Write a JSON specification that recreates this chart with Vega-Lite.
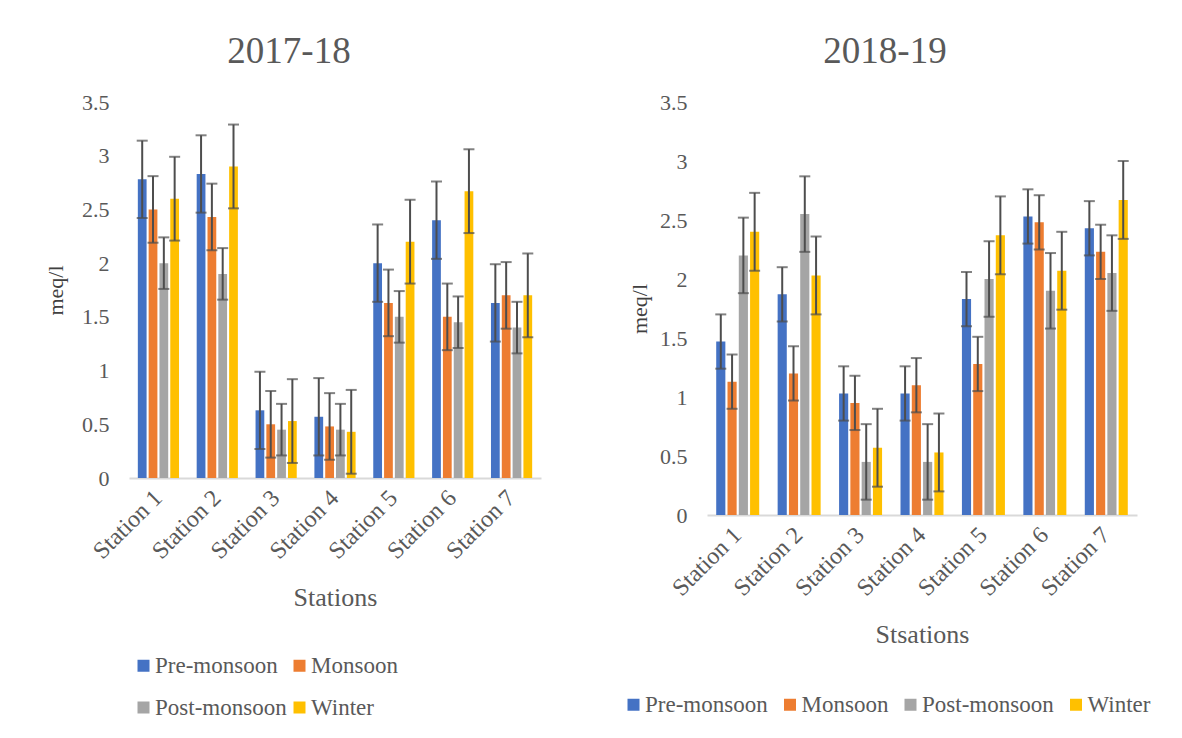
{
  "$schema": "https://vega.github.io/schema/vega-lite/v6.json",
  "padding": {"left": 44, "top": 33, "right": 5, "bottom": 5},
  "background": "white",
  "config": {
    "font": "Liberation Serif",
    "view": {"stroke": null},
    "axisY": {"titleFontSize": 22, "titleFont": "Liberation Serif", "titleColor": "#404040"},
    "axisLeft": {"titleFontSize": 22, "titleFont": "Liberation Serif", "titleColor": "#404040"},
    "style": {"guide-title": {"fontSize": 22}},
    "title": {"font": "Liberation Serif", "fontSize": 37, "fontWeight": "normal", "color": "#595959"}
  },
  "resolve": {"scale": {"x": "independent", "y": "independent", "xOffset": "independent", "color": "independent"}, "legend": {"color": "independent"}},
  "spacing": 81,
  "datasets": {
    "a": [
      {"Station": "Station 1", "Season": "Pre-monsoon", "value": 2.78, "low": 2.42, "high": 3.14},
      {"Station": "Station 1", "Season": "Monsoon", "value": 2.50, "low": 2.19, "high": 2.81},
      {"Station": "Station 1", "Season": "Post-monsoon", "value": 2.00, "low": 1.76, "high": 2.24},
      {"Station": "Station 1", "Season": "Winter", "value": 2.60, "low": 2.21, "high": 2.99},
      {"Station": "Station 2", "Season": "Pre-monsoon", "value": 2.83, "low": 2.47, "high": 3.19},
      {"Station": "Station 2", "Season": "Monsoon", "value": 2.43, "low": 2.12, "high": 2.74},
      {"Station": "Station 2", "Season": "Post-monsoon", "value": 1.90, "low": 1.66, "high": 2.14},
      {"Station": "Station 2", "Season": "Winter", "value": 2.90, "low": 2.51, "high": 3.29},
      {"Station": "Station 3", "Season": "Pre-monsoon", "value": 0.63, "low": 0.27, "high": 0.99},
      {"Station": "Station 3", "Season": "Monsoon", "value": 0.50, "low": 0.19, "high": 0.81},
      {"Station": "Station 3", "Season": "Post-monsoon", "value": 0.45, "low": 0.21, "high": 0.69},
      {"Station": "Station 3", "Season": "Winter", "value": 0.53, "low": 0.14, "high": 0.92},
      {"Station": "Station 4", "Season": "Pre-monsoon", "value": 0.57, "low": 0.21, "high": 0.93},
      {"Station": "Station 4", "Season": "Monsoon", "value": 0.48, "low": 0.17, "high": 0.79},
      {"Station": "Station 4", "Season": "Post-monsoon", "value": 0.45, "low": 0.21, "high": 0.69},
      {"Station": "Station 4", "Season": "Winter", "value": 0.43, "low": 0.04, "high": 0.82},
      {"Station": "Station 5", "Season": "Pre-monsoon", "value": 2.00, "low": 1.64, "high": 2.36},
      {"Station": "Station 5", "Season": "Monsoon", "value": 1.63, "low": 1.32, "high": 1.94},
      {"Station": "Station 5", "Season": "Post-monsoon", "value": 1.50, "low": 1.26, "high": 1.74},
      {"Station": "Station 5", "Season": "Winter", "value": 2.20, "low": 1.81, "high": 2.59},
      {"Station": "Station 6", "Season": "Pre-monsoon", "value": 2.40, "low": 2.04, "high": 2.76},
      {"Station": "Station 6", "Season": "Monsoon", "value": 1.50, "low": 1.19, "high": 1.81},
      {"Station": "Station 6", "Season": "Post-monsoon", "value": 1.45, "low": 1.21, "high": 1.69},
      {"Station": "Station 6", "Season": "Winter", "value": 2.67, "low": 2.28, "high": 3.06},
      {"Station": "Station 7", "Season": "Pre-monsoon", "value": 1.63, "low": 1.27, "high": 1.99},
      {"Station": "Station 7", "Season": "Monsoon", "value": 1.70, "low": 1.39, "high": 2.01},
      {"Station": "Station 7", "Season": "Post-monsoon", "value": 1.40, "low": 1.16, "high": 1.64},
      {"Station": "Station 7", "Season": "Winter", "value": 1.70, "low": 1.31, "high": 2.09}
    ],
    "b": [
      {"Station": "Station 1", "Season": "Pre-monsoon", "value": 1.47, "low": 1.24, "high": 1.70},
      {"Station": "Station 1", "Season": "Monsoon", "value": 1.13, "low": 0.90, "high": 1.36},
      {"Station": "Station 1", "Season": "Post-monsoon", "value": 2.20, "low": 1.88, "high": 2.52},
      {"Station": "Station 1", "Season": "Winter", "value": 2.40, "low": 2.07, "high": 2.73},
      {"Station": "Station 2", "Season": "Pre-monsoon", "value": 1.87, "low": 1.64, "high": 2.10},
      {"Station": "Station 2", "Season": "Monsoon", "value": 1.20, "low": 0.97, "high": 1.43},
      {"Station": "Station 2", "Season": "Post-monsoon", "value": 2.55, "low": 2.23, "high": 2.87},
      {"Station": "Station 2", "Season": "Winter", "value": 2.03, "low": 1.70, "high": 2.36},
      {"Station": "Station 3", "Season": "Pre-monsoon", "value": 1.03, "low": 0.80, "high": 1.26},
      {"Station": "Station 3", "Season": "Monsoon", "value": 0.95, "low": 0.72, "high": 1.18},
      {"Station": "Station 3", "Season": "Post-monsoon", "value": 0.45, "low": 0.13, "high": 0.77},
      {"Station": "Station 3", "Season": "Winter", "value": 0.57, "low": 0.24, "high": 0.90},
      {"Station": "Station 4", "Season": "Pre-monsoon", "value": 1.03, "low": 0.80, "high": 1.26},
      {"Station": "Station 4", "Season": "Monsoon", "value": 1.10, "low": 0.87, "high": 1.33},
      {"Station": "Station 4", "Season": "Post-monsoon", "value": 0.45, "low": 0.13, "high": 0.77},
      {"Station": "Station 4", "Season": "Winter", "value": 0.53, "low": 0.20, "high": 0.86},
      {"Station": "Station 5", "Season": "Pre-monsoon", "value": 1.83, "low": 1.60, "high": 2.06},
      {"Station": "Station 5", "Season": "Monsoon", "value": 1.28, "low": 1.05, "high": 1.51},
      {"Station": "Station 5", "Season": "Post-monsoon", "value": 2.00, "low": 1.68, "high": 2.32},
      {"Station": "Station 5", "Season": "Winter", "value": 2.37, "low": 2.04, "high": 2.70},
      {"Station": "Station 6", "Season": "Pre-monsoon", "value": 2.53, "low": 2.30, "high": 2.76},
      {"Station": "Station 6", "Season": "Monsoon", "value": 2.48, "low": 2.25, "high": 2.71},
      {"Station": "Station 6", "Season": "Post-monsoon", "value": 1.90, "low": 1.58, "high": 2.22},
      {"Station": "Station 6", "Season": "Winter", "value": 2.07, "low": 1.74, "high": 2.40},
      {"Station": "Station 7", "Season": "Pre-monsoon", "value": 2.43, "low": 2.20, "high": 2.66},
      {"Station": "Station 7", "Season": "Monsoon", "value": 2.23, "low": 2.00, "high": 2.46},
      {"Station": "Station 7", "Season": "Post-monsoon", "value": 2.05, "low": 1.73, "high": 2.37},
      {"Station": "Station 7", "Season": "Winter", "value": 2.67, "low": 2.34, "high": 3.00}
    ]
  },
  "hconcat": [
    {
      "width": 412,
      "height": 376,
      "data": {"name": "a"},
      "title": {"text": "2017-18", "dx": -46, "offset": 20},
      "encoding": {
        "x": {"field": "Station", "type": "nominal", "scale": {"paddingInner": 0.3, "paddingOuter": 0.15}, "axis": {"title": "Stations", "domainColor": "#D9D9D9", "domainWidth": 2, "ticks": false, "grid": false, "labelAngle": -45, "labelAlign": "right", "labelBaseline": "middle", "labelFont": "Liberation Serif", "labelFontSize": 24, "labelColor": "#595959", "labelPadding": 16, "titleFont": "Liberation Serif", "titleFontSize": 26, "titleColor": "#595959", "titleFontWeight": "normal", "titlePadding": 21}},
        "xOffset": {"field": "Season", "type": "nominal", "sort": ["Pre-monsoon", "Monsoon", "Post-monsoon", "Winter"], "scale": {"paddingInner": 0.19, "paddingOuter": 0}},
        "y": {"field": "value", "type": "quantitative", "title": "meq/l", "scale": {"domain": [0, 3.5], "nice": false, "zero": true}, "axis": {"title": "meq/l", "values": [0, 0.5, 1, 1.5, 2, 2.5, 3, 3.5], "format": "~g", "domain": false, "ticks": false, "grid": false, "labelFont": "Liberation Serif", "labelFontSize": 22, "labelColor": "#595959", "labelPadding": 20, "titleFont": "Liberation Serif", "titleFontSize": 22, "titleColor": "#404040", "titleFontWeight": "normal", "titlePadding": 14}}
      },
      "layer": [
        {
          "mark": {"type": "bar"},
          "encoding": {
            "color": {"field": "Season", "type": "nominal", "sort": ["Pre-monsoon", "Monsoon", "Post-monsoon", "Winter"], "scale": {"domain": ["Pre-monsoon", "Monsoon", "Post-monsoon", "Winter"], "range": ["#4472C4", "#ED7D31", "#A5A5A5", "#FFC000"]}, "legend": {"title": null, "orient": "none", "legendX": 3, "legendY": 552, "columns": 2, "direction": "horizontal", "columnPadding": 1, "rowPadding": 18, "labelFont": "Liberation Serif", "labelFontSize": 23, "labelColor": "#595959", "symbolType": "square", "symbolSize": 144, "symbolStrokeWidth": 0, "labelOffset": 0}}
          }
        },
        {
          "mark": {"type": "rule", "color": "#4d4d4d", "strokeWidth": 2},
          "encoding": {"y": {"field": "low", "type": "quantitative"}, "y2": {"field": "high"}}
        },
        {
          "mark": {"type": "tick", "color": "#4d4d4d", "thickness": 2, "size": 11, "orient": "horizontal"},
          "encoding": {"y": {"field": "low", "type": "quantitative"}}
        },
        {
          "mark": {"type": "tick", "color": "#4d4d4d", "thickness": 2, "size": 11, "orient": "horizontal"},
          "encoding": {"y": {"field": "high", "type": "quantitative"}}
        }
      ]
    },
    {
      "width": 430,
      "height": 413,
      "data": {"name": "b"},
      "title": {"text": "2018-19", "dx": -37, "offset": 20},
      "encoding": {
        "x": {"field": "Station", "type": "nominal", "scale": {"paddingInner": 0.3, "paddingOuter": 0.15}, "axis": {"title": "Stsations", "domainColor": "#D9D9D9", "domainWidth": 2, "ticks": false, "grid": false, "labelAngle": -45, "labelAlign": "right", "labelBaseline": "middle", "labelFont": "Liberation Serif", "labelFontSize": 24, "labelColor": "#595959", "labelPadding": 16, "titleFont": "Liberation Serif", "titleFontSize": 26, "titleColor": "#595959", "titleFontWeight": "normal", "titlePadding": 21}},
        "xOffset": {"field": "Season", "type": "nominal", "sort": ["Pre-monsoon", "Monsoon", "Post-monsoon", "Winter"], "scale": {"paddingInner": 0.19, "paddingOuter": 0}},
        "y": {"field": "value", "type": "quantitative", "title": "meq/l", "scale": {"domain": [0, 3.5], "nice": false, "zero": true}, "axis": {"title": "meq/l", "values": [0, 0.5, 1, 1.5, 2, 2.5, 3, 3.5], "format": "~g", "domain": false, "ticks": false, "grid": false, "labelFont": "Liberation Serif", "labelFontSize": 22, "labelColor": "#595959", "labelPadding": 20, "titleFont": "Liberation Serif", "titleFontSize": 22, "titleColor": "#404040", "titleFontWeight": "normal", "titlePadding": 8}}
      },
      "layer": [
        {
          "mark": {"type": "bar"},
          "encoding": {
            "color": {"field": "Season", "type": "nominal", "sort": ["Pre-monsoon", "Monsoon", "Post-monsoon", "Winter"], "scale": {"domain": ["Pre-monsoon", "Monsoon", "Post-monsoon", "Winter"], "range": ["#4472C4", "#ED7D31", "#A5A5A5", "#FFC000"]}, "legend": {"title": null, "orient": "none", "legendX": -85, "legendY": 591, "columns": 4, "direction": "horizontal", "columnPadding": 10.5, "labelFont": "Liberation Serif", "labelFontSize": 23, "labelColor": "#595959", "symbolType": "square", "symbolSize": 144, "symbolStrokeWidth": 0, "labelOffset": 0}}
          }
        },
        {
          "mark": {"type": "rule", "color": "#4d4d4d", "strokeWidth": 2},
          "encoding": {"y": {"field": "low", "type": "quantitative"}, "y2": {"field": "high"}}
        },
        {
          "mark": {"type": "tick", "color": "#4d4d4d", "thickness": 2, "size": 11, "orient": "horizontal"},
          "encoding": {"y": {"field": "low", "type": "quantitative"}}
        },
        {
          "mark": {"type": "tick", "color": "#4d4d4d", "thickness": 2, "size": 11, "orient": "horizontal"},
          "encoding": {"y": {"field": "high", "type": "quantitative"}}
        }
      ]
    }
  ]
}
